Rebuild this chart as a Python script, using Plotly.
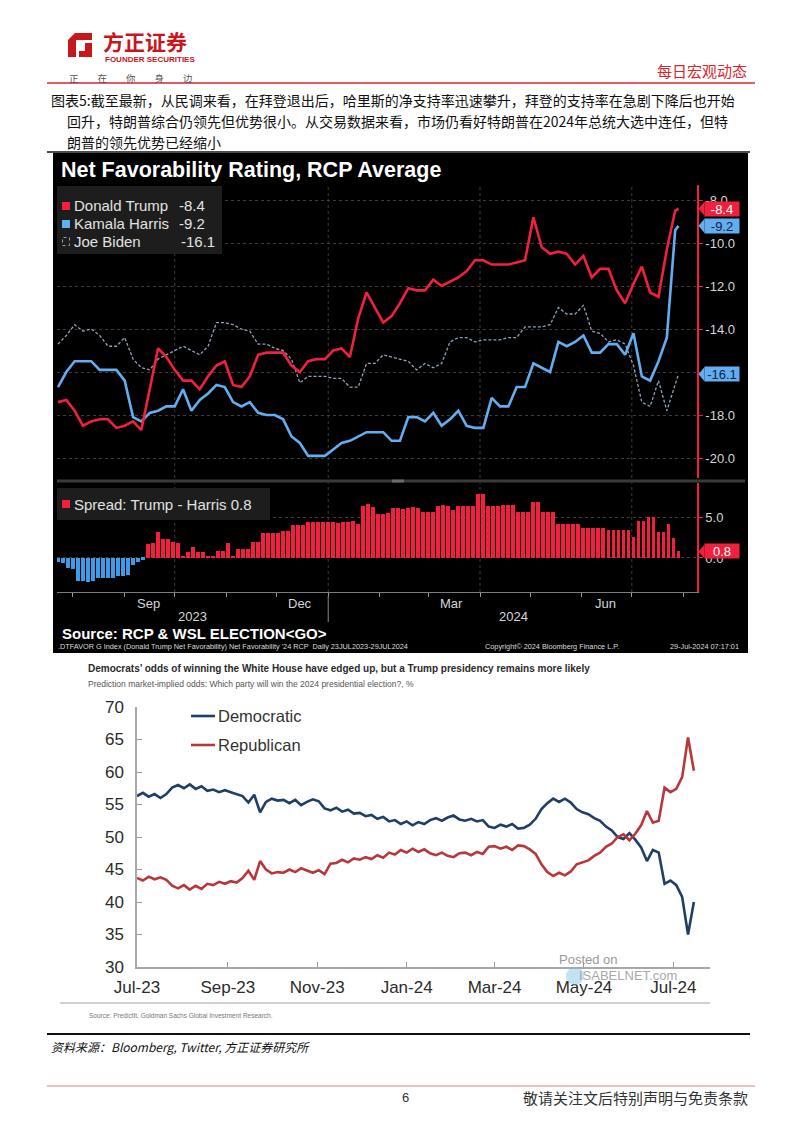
import plotly.graph_objects as go
import pandas as pd

# the page body adds an 8px margin; the figure is sized and mapped so that
# its content lands at the intended window pixels
OFF = 8
W, H = 802 - OFF, 1133 - OFF


def px(x):
    return (x - OFF) / W


def py(y):
    return 1 - (y - OFF) / H


# ---------------- DATA: RCP net favorability (5-day samples from 23 Jul 2023, last = 29 Jul 2024)
trump = [-17.4, -17.3, -17.8, -18.5, -18.3, -18.2, -18.2, -18.6, -18.5, -18.3,
         -18.7, -16.8, -14.9, -15.3, -15.9, -16.4, -16.4, -16.8, -16.2, -15.7,
         -15.5, -16.6, -16.7, -16.2, -15.2, -15.1, -15.1, -15.1, -15.7, -16.0,
         -15.5, -15.4, -15.4, -15.0, -14.9, -15.3, -13.5, -12.3, -13.0, -13.7,
         -13.4, -12.8, -12.1, -12.2, -12.2, -11.7, -12.0, -11.8, -11.6, -11.3,
         -10.8, -10.8, -11.0, -11.0, -11.0, -10.9, -10.8, -8.8, -10.2, -10.5,
         -10.4, -10.5, -11.0, -10.6, -11.6, -11.2, -11.2, -12.2, -12.8, -11.9,
         -11.1, -12.3, -12.5, -10.3, -8.5, -8.4]
harris = [-16.7, -16.0, -15.5, -15.5, -15.5, -15.9, -15.9, -15.9, -16.4, -18.1,
          -18.3, -17.9, -17.8, -17.6, -17.6, -16.8, -17.8, -17.3, -17.0, -16.6,
          -16.7, -17.4, -17.6, -17.4, -17.9, -18.0, -18.0, -18.2, -19.0, -19.3,
          -19.9, -19.9, -19.9, -19.6, -19.3, -19.2, -19.0, -18.8, -18.8, -18.8,
          -19.2, -19.2, -18.1, -18.1, -18.3, -17.9, -18.5, -18.2, -17.8, -18.5,
          -18.6, -18.6, -17.2, -17.6, -17.6, -16.7, -16.7, -15.6, -15.8, -16.0,
          -14.6, -14.8, -14.6, -14.3, -15.1, -15.1, -14.7, -14.7, -15.2, -14.2,
          -16.2, -16.4, -15.5, -14.4, -9.4, -9.2]
biden = [-14.7, -14.3, -13.8, -14.1, -14.0, -14.3, -14.8, -14.8, -14.4, -15.4,
         -15.8, -15.9, -15.4, -15.2, -15.0, -14.8, -15.0, -15.2, -14.8, -13.7,
         -13.7, -13.8, -14.0, -14.1, -14.7, -14.7, -14.9, -15.0, -15.4, -16.5,
         -16.2, -16.2, -16.2, -16.3, -16.3, -16.7, -16.7, -15.6, -15.6, -15.2,
         -15.3, -15.4, -15.5, -15.9, -15.6, -15.8, -15.6, -14.6, -14.4, -14.4,
         -14.6, -14.5, -14.5, -14.5, -14.4, -14.4, -13.9, -13.9, -13.9, -13.8,
         -13.0, -13.3, -13.3, -12.9, -14.1, -14.2, -14.6, -14.5, -14.7, -15.7,
         -17.4, -17.6, -16.4, -17.8, -16.5, -16.1]
fav_start = "2023-07-23"
fav_end = "2024-07-29"

# Spread Trump - Harris (3-day samples from 23 Jul 2023)
spread = [-0.5, -0.6, -1.2, -1.3, -2.8, -2.8, -2.9, -2.8, -2.5, -2.5,
          -2.5, -2.4, -2.2, -2.2, -2.1, -0.8, -0.5, -0.2, 1.7, 1.8,
          3.2, 2.3, 2.3, 1.9, 1.8, 0.2, 0.7, 1.4, 0.7, 0.7,
          0.2, 0.2, 0.8, 0.8, 1.8, 0.3, 1.1, 1.1, 1.1, 2.0,
          2.0, 3.1, 3.1, 3.1, 3.1, 3.3, 3.3, 4.0, 4.0, 4.0,
          4.4, 4.4, 4.4, 4.4, 4.4, 4.4, 4.3, 4.4, 4.4, 4.5,
          4.1, 6.4, 6.6, 6.2, 5.4, 5.4, 5.5, 6.1, 6.1, 6.0,
          6.1, 6.2, 6.1, 5.6, 5.6, 5.6, 6.4, 6.5, 6.4, 5.9,
          6.4, 6.4, 6.3, 6.4, 7.8, 7.8, 6.4, 6.4, 6.4, 6.5,
          6.5, 6.5, 5.6, 5.6, 5.6, 6.8, 6.8, 5.6, 5.6, 5.6,
          4.1, 4.1, 4.1, 4.1, 4.1, 3.6, 3.6, 3.6, 3.6, 3.6,
          3.4, 3.4, 3.4, 3.4, 3.4, 2.6, 4.5, 4.5, 5.0, 5.0,
          3.2, 3.2, 4.2, 2.5, 0.8]

fav_ticks = [-8, -10, -12, -14, -16, -18, -20]
spread_ticks = [0, 5]
quarter_lines = ["2023-10-01", "2024-01-01", "2024-04-01", "2024-07-01"]
month_labels = ["Sep", "Dec", "Mar", "Jun"]
month_label_dates = ["2023-09-15", "2023-12-15", "2024-03-15", "2024-06-15"]

# ---------------- DATA: PredictIt odds (4-day samples from 1 Jul 2023), %
dem = [56.3, 56.8, 56.2, 56.6, 56.0, 56.6, 57.6, 58.0, 57.5, 58.1,
       57.4, 57.8, 57.1, 57.3, 56.9, 57.2, 56.9, 56.6, 56.3, 55.3,
       56.5, 53.8, 55.4, 55.9, 55.6, 55.7, 55.2, 55.7, 54.9, 55.4,
       55.8, 55.5, 54.4, 54.1, 54.5, 53.9, 54.2, 53.6, 53.7, 53.2,
       53.4, 52.8, 53.1, 52.4, 52.6, 52.0, 52.4, 51.8, 52.3, 52.0,
       52.6, 52.9, 52.5, 53.0, 53.3, 52.7, 52.5, 52.8, 52.4, 52.6,
       51.6, 51.4, 51.9, 51.6, 52.0, 51.3, 51.4, 51.9, 52.8, 54.3,
       55.2, 55.9, 55.4, 55.9, 55.3, 54.3, 53.8, 53.5, 52.9, 52.5,
       51.6, 51.0, 50.0, 49.7, 50.6, 49.6, 48.4, 46.3, 48.0, 47.6,
       42.8, 43.3, 42.6, 40.8, 35.0, 40.0]
rep = [43.7, 43.3, 43.9, 43.5, 43.8, 43.4, 42.5, 42.1, 42.6, 41.9,
       42.5, 42.0, 42.8, 42.6, 43.1, 42.8, 43.2, 43.0, 43.7, 44.8,
       43.4, 46.3, 45.0, 44.4, 44.6, 44.5, 45.0, 44.6, 45.2, 44.8,
       44.5, 44.9, 44.3, 45.9, 46.0, 46.5, 46.1, 46.7, 46.5, 46.9,
       46.6, 47.2, 46.8, 47.6, 47.3, 48.0, 47.6, 48.2, 47.7, 48.1,
       47.5, 47.2, 47.6, 47.1, 46.9, 47.5, 47.6, 47.2, 47.7, 47.4,
       48.5, 48.6, 48.2, 48.5, 48.0, 48.7, 48.6, 48.1, 47.4, 45.8,
       44.6, 44.0, 44.5, 44.1, 44.7, 45.8, 46.1, 46.4, 47.1, 47.6,
       48.5, 49.0, 50.0, 50.4, 49.5, 50.5, 51.8, 54.0, 52.2, 52.5,
       57.6, 56.9, 57.4, 59.2, 65.3, 60.2]
odds_start = "2023-07-01"
odds_tickvals = ["2023-07-01", "2023-09-01", "2023-11-01", "2024-01-01",
                 "2024-03-01", "2024-05-01", "2024-07-01"]
odds_ticktext = ["Jul-23", "Sep-23", "Nov-23", "Jan-24", "Mar-24", "May-24", "Jul-24"]

# ---------------- derived positions
fav_dates = list(pd.date_range(fav_start, periods=len(trump) - 1, freq="5D")) + [pd.Timestamp(fav_end)]
spread_dates = pd.date_range(fav_start, periods=len(spread), freq="3D")
odds_dates = pd.date_range(odds_start, periods=len(dem), freq="4D")

RED = "#f2203f"
BLUE = "#62aef0"
BIDEN = "#8ea3bb"
BLOOM_FONT = "Liberation Sans, Arial, sans-serif"
CJK = "Noto Sans CJK SC"

fig = go.Figure()

fig.add_trace(go.Scatter(x=fav_dates, y=biden, mode="lines", xaxis="x", yaxis="y",
                         line=dict(color=BIDEN, width=1.3, dash="3px,2px")))
fig.add_trace(go.Scatter(x=fav_dates, y=harris, mode="lines", xaxis="x", yaxis="y",
                         line=dict(color=BLUE, width=2.6)))
fig.add_trace(go.Scatter(x=fav_dates, y=trump, mode="lines", xaxis="x", yaxis="y",
                         line=dict(color=RED, width=2.6)))
fig.add_trace(go.Bar(x=spread_dates, y=spread, xaxis="x2", yaxis="y2",
                     width=3 * 86400000 * 0.78,
                     marker=dict(color=[RED if v >= 0 else "#3f9ae8" for v in spread], line_width=0)))

fig.add_trace(go.Scatter(x=odds_dates, y=dem, mode="lines", xaxis="x3", yaxis="y3",
                         line=dict(color="#213e66", width=2.6)))
fig.add_trace(go.Scatter(x=odds_dates, y=rep, mode="lines", xaxis="x3", yaxis="y3",
                         line=dict(color="#b7373d", width=2.6)))

xr_top = ["2023-07-22 10:00", "2024-08-09 02:00"]
grid_style = dict(showgrid=True, gridcolor="#3c3c3c", griddash="dot", gridwidth=1)

fig.update_layout(
    width=W, height=H, margin=dict(l=0, r=0, t=0, b=0, pad=0, autoexpand=False),
    paper_bgcolor="white", plot_bgcolor="rgba(0,0,0,0)", showlegend=False,
    xaxis=dict(domain=[px(57), px(697)], range=xr_top, anchor="y", matches="x2", automargin=False,
               showgrid=False, showticklabels=False, showline=False, zeroline=False, ticks=""),
    yaxis=dict(domain=[py(478), py(185)], range=[-20.93, -7.30], anchor="x", side="right", automargin=False,
               tickvals=fav_ticks, ticktext=[f"{v:.1f}" for v in fav_ticks],
               ticks="outside", ticklen=4, tickcolor=RED, showline=True, linecolor=RED, linewidth=1.5,
               tickfont=dict(size=13, color="#d6d6d6", family=BLOOM_FONT), zeroline=False, **grid_style),
    xaxis2=dict(domain=[px(57), px(697)], range=xr_top, anchor="y2", automargin=False,
                showgrid=False, showticklabels=False, zeroline=False,
                tickmode="linear", tick0="2023-08-01", dtick="M1",
                ticks="outside", ticklen=4, tickcolor="#9a9a9a",
                showline=True, linecolor="#7a7a7a", linewidth=1),
    yaxis2=dict(domain=[py(592), py(483)], range=[-4.15, 9.15], anchor="x2", side="right", automargin=False,
                tickvals=spread_ticks, ticktext=[f"{v:.1f}" for v in spread_ticks],
                ticks="outside", ticklen=4, tickcolor=RED, showline=True, linecolor=RED, linewidth=1.5,
                tickfont=dict(size=13, color="#d6d6d6", family=BLOOM_FONT), zeroline=False, **grid_style),
    xaxis3=dict(domain=[px(137), px(710)], range=["2023-07-01", "2024-07-26"], anchor="y3", automargin=False,
                tickvals=odds_tickvals, ticktext=odds_ticktext, ticks="inside", ticklen=5,
                tickcolor="#9a9a9a", showline=True, linecolor="#a8a8a8", linewidth=1.5,
                showgrid=False, zeroline=False, ticklabelstandoff=4,
                tickfont=dict(size=17, color="#2b2b2b", family=BLOOM_FONT)),
    yaxis3=dict(domain=[py(967), py(707)], range=[30, 70], anchor="x3", dtick=5, automargin=False,
                ticks="inside", ticklen=5, tickcolor="#9a9a9a", showline=True,
                linecolor="#a8a8a8", linewidth=1.5, showgrid=False, zeroline=False,
                ticklabelstandoff=8,
                tickfont=dict(size=17, color="#2b2b2b", family=BLOOM_FONT)),
    bargap=0,
)

shapes = []
ann = []


def rect(x0, y0, x1, y1, fill, layer="below", line=None):
    shapes.append(dict(type="rect", xref="paper", yref="paper", x0=px(x0), x1=px(x1),
                       y0=py(y1), y1=py(y0), fillcolor=fill, layer=layer,
                       line=line or dict(width=0)))


def hline(x0, x1, y, color, width=1, dash="solid", layer="above"):
    shapes.append(dict(type="line", xref="paper", yref="paper", x0=px(x0), x1=px(x1),
                       y0=py(y), y1=py(y), line=dict(color=color, width=width, dash=dash), layer=layer))


def text(x, y, s, size, color, anchor="left", family=BLOOM_FONT, **kw):
    ann.append(dict(x=px(x), y=py(y), xref="paper", yref="paper", text=s, showarrow=False,
                    xanchor=anchor, yanchor="middle", font=dict(size=size, color=color, family=family), **kw))


def poly(points, color):
    d = "M " + " L ".join(f"{px(a):.5f},{py(b):.5f}" for a, b in points) + " Z"
    shapes.append(dict(type="path", xref="paper", yref="paper", path=d, fillcolor=color,
                       line=dict(width=0), layer="above"))


# ---------------- page header
poly([(68, 40), (75, 33), (92, 33), (92, 40), (76, 40), (76, 57), (68, 57)], "#c8161d")
poly([(85, 43), (92, 43), (92, 57), (79, 57), (79, 51), (85, 51)], "#c8161d")
text(101, 41, "<b>方正证券</b>", 21, "#c8161d", family=CJK)
text(103, 60, "<b>FOUNDER SECURITIES</b>", 8, "#c8161d")
text(67, 78, "正　　在　　你　　身　　边", 9.5, "#555555", family=CJK)
text(749, 70, "每日宏观动态", 15, "#d9262e", anchor="right", family=CJK)
hline(47, 755, 83, "#d9262e", 1.5)

text(49, 100, "图表5:截至最新，从民调来看，在拜登退出后，哈里斯的净支持率迅速攀升，拜登的支持率在急剧下降后也开始",
     14, "#111111", family=CJK)
text(65, 121, "回升，特朗普综合仍领先但优势很小。从交易数据来看，市场仍看好特朗普在2024年总统大选中连任，但特",
     14, "#111111", family=CJK)
text(65, 142, "朗普的领先优势已经缩小", 14, "#111111", family=CJK)
hline(47, 750, 152, "#111111", 1.5)

# ---------------- Bloomberg chart background & decorations
rect(53, 153, 748, 653, "black")
rect(57, 186, 222, 254, "#1d1d1d", layer="above")
rect(57, 488, 270, 520, "#1d1d1d", layer="above")
hline(57, 745, 481, "#3a3a3a", 3)
hline(392, 404, 481, "#6a6a6a", 3)

for qd in quarter_lines:
    shapes.append(dict(type="line", xref="x", yref="paper", x0=qd, x1=qd, y0=py(478), y1=py(185),
                       line=dict(color="#3c3c3c", width=1, dash="dot"), layer="below"))
    shapes.append(dict(type="line", xref="x2", yref="paper", x0=qd, x1=qd, y0=py(592), y1=py(483),
                       line=dict(color="#3c3c3c", width=1, dash="dot"), layer="below"))
# year divider
shapes.append(dict(type="line", xref="x2", yref="paper", x0="2024-01-01", x1="2024-01-01",
                   y0=py(622), y1=py(596), line=dict(color="#8a8a8a", width=1), layer="above"))

text(59, 170, "<b>Net Favorability Rating, RCP Average</b>", 21.5, "white")

# legend (top)
rect(62, 202, 70, 210, RED, layer="above")
rect(62, 220, 70, 228, BLUE, layer="above")
rect(62.5, 237.5, 69.5, 245.5, "rgba(0,0,0,0)", layer="above",
     line=dict(color=BIDEN, width=1, dash="dot"))
leg_col = "#e2e2e2"
text(72, 206, "Donald Trump", 15, leg_col)
text(72, 224, "Kamala Harris", 15, leg_col)
text(72, 241, "Joe Biden", 15, leg_col)
text(177, 206, f"{trump[-1]:.1f}", 15, leg_col)
text(177, 224, f"{harris[-1]:.1f}", 15, leg_col)
text(179, 241, f"{biden[-1]:.1f}", 15, leg_col)

# legend (bottom)
rect(62, 500, 70, 508, RED, layer="above")
text(72, 504, f"Spread: Trump - Harris {spread[-1]:.1f}", 15, leg_col)


# right-edge value boxes
def value_box(val, yref, bg, fg, dv):
    ann.append(dict(x=px(704), y=val, xref="paper", yref=yref, text=f"{val:.1f}", showarrow=False,
                    xanchor="left", yanchor="middle", bgcolor=bg, width=34, height=14, align="center",
                    borderpad=0, font=dict(size=13, color=fg, family=BLOOM_FONT)))
    shapes.append(dict(type="path", xref="paper", yref=yref,
                       path=f"M {px(698.5):.5f},{val} L {px(704.5):.5f},{val + dv} L {px(704.5):.5f},{val - dv} Z",
                       fillcolor=bg, line=dict(width=0), layer="above"))


value_box(trump[-1], "y", RED, "white", 0.33)
value_box(harris[-1], "y", BLUE, "#0c2440", 0.33)
value_box(biden[-1], "y", BLUE, "#0c2440", 0.33)
value_box(spread[-1], "y2", RED, "white", 0.85)

# month / year labels
for lab, dt in zip(month_labels, month_label_dates):
    ann.append(dict(x=dt, y=py(603), xref="x2", yref="paper", text=lab, showarrow=False,
                    xanchor="center", yanchor="middle", font=dict(size=13, color="#d6d6d6", family=BLOOM_FONT)))
text(192, 616, "2023", 13, "#d6d6d6", anchor="center")
text(513, 616, "2024", 13, "#d6d6d6", anchor="center")

text(60, 633, "<b>Source: RCP &amp; WSL ELECTION&lt;GO&gt;</b>", 15, "white")
text(56, 647, ".DTFAVOR G Index (Donald Trump Net Favorability) Net Favorability '24 RCP  Daily 23JUL2023-29JUL2024",
     7.3, "#dddddd")
text(483, 647, "Copyright© 2024 Bloomberg Finance L.P.", 7.3, "#dddddd")
text(741, 647, "29-Jul-2024 07:17:01", 7.3, "#dddddd", anchor="right")

# ---------------- Goldman chart decorations
text(86, 668, "<b>Democrats’ odds of winning the White House have edged up, but a Trump presidency remains more likely</b>",
     10.0, "#2a2a2a")
text(86, 684, "Prediction market-implied odds: Which party will win the 2024 presidential election?, %",
     8.5, "#555555")

hline(191, 215, 716, "#213e66", 2.6)
hline(191, 215, 745, "#b7373d", 2.6)
text(216, 716, "Democratic", 16.5, "#333333")
text(216, 745, "Republican", 16.5, "#333333")

shapes.append(dict(type="circle", xref="paper", yref="paper", x0=px(566), x1=px(584), y0=py(985), y1=py(967),
                   fillcolor="rgba(120,190,225,0.45)", line=dict(width=0), layer="above"))
text(557, 959, "Posted on", 13, "#9a9a9a")
text(577, 975, "ISABELNET.com", 13, "#a8a8a8")

hline(60, 710, 1003, "#d0d0d0", 2)
text(87, 1015, "Source: PredictIt, Goldman Sachs Global Investment Research.", 6.5, "#777777")

# ---------------- page footer
hline(47, 750, 1034, "#111111", 2)
text(49, 1046, "<i>资料来源：Bloomberg, Twitter, 方正证券研究所</i>", 12, "#111111", family=CJK)
hline(47, 755, 1086, "#e0808c", 1.2)
text(405, 1097, "6", 13, "#333333", anchor="center")
text(750, 1097, "敬请关注文后特别声明与免责条款", 15, "#333333", anchor="right", family=CJK)

fig.update_layout(shapes=shapes, annotations=ann)
fig.write_html("out.html")
